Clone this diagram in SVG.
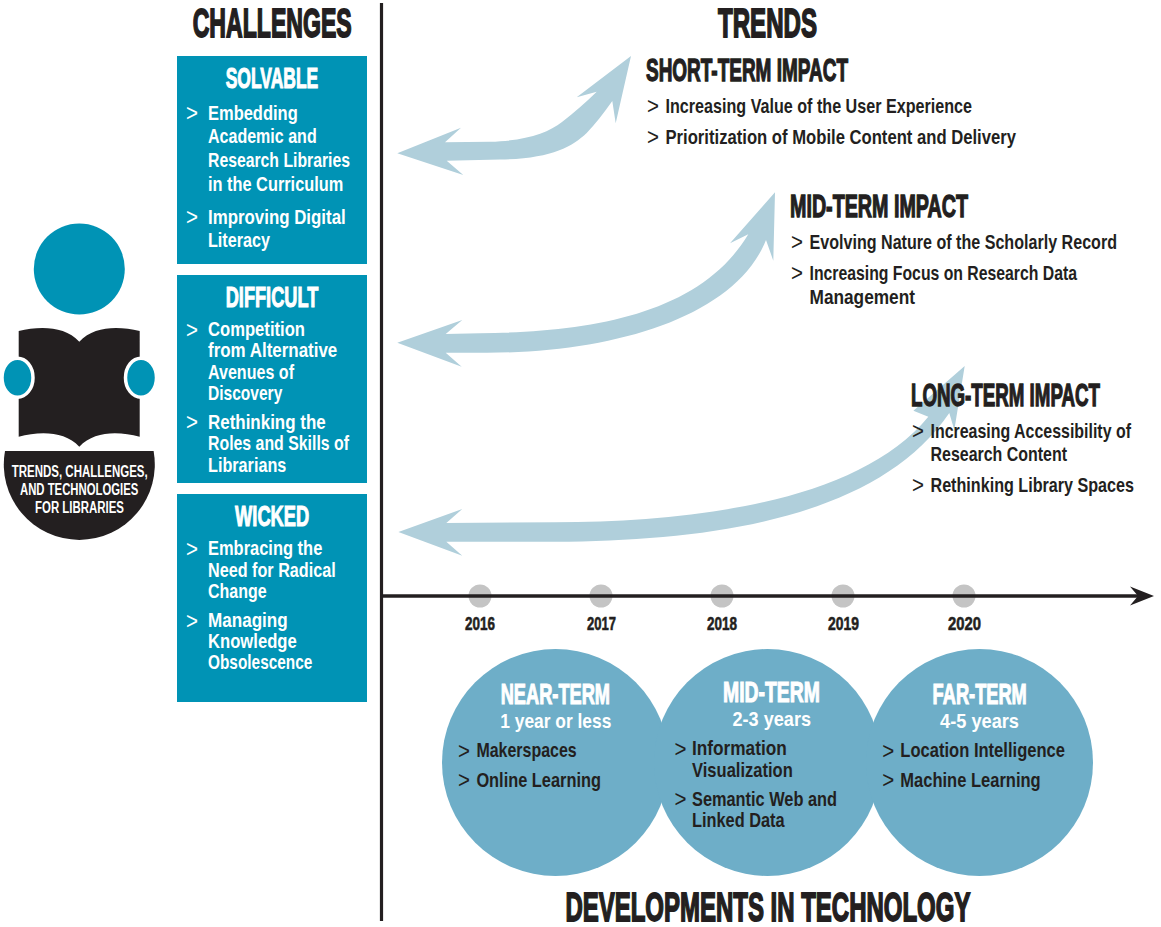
<svg xmlns="http://www.w3.org/2000/svg" width="1161" height="927" viewBox="0 0 1161 927">
<style>
text{font-family:"Liberation Sans Narrow","Liberation Sans",Arial,sans-serif;font-weight:700;font-size:21px;fill:#231f20}
.h{font-family:"Liberation Sans",Arial,sans-serif;stroke:#231f20;stroke-width:1.8px;font-size:41px}
.s{font-family:"Liberation Sans",Arial,sans-serif;stroke:#231f20;stroke-width:1.3px;font-size:31px}
.w{fill:#fff}
.hw{font-family:"Liberation Sans",Arial,sans-serif;fill:#fff;stroke:#fff;stroke-width:1.1px;font-size:30px}
.hn{font-size:29px}
.g{font-weight:400;font-size:24px}
.y{font-family:"Liberation Sans",Arial,sans-serif;stroke:#231f20;stroke-width:.6px;font-size:19px}
.l{font-size:16px;fill:#fff}
.box{fill:#0093b5}
.tc{fill:#6eaec8}
.arr{fill:#b0cfdb}
.dot{fill:#c4c4c4}
.dk{fill:#231f20}
</style>
<rect width="1161" height="927" fill="#fff"/>
<g id="connectors">
<path class="arr" d="M397.3 153.3L461 127.7L445 142.3L490 141.7C525 141 548 133 562 122C575 112 586 102 596.7 91.7L576.7 97.3L631 56L615.7 123.3L612.3 101C604 113 595 124 586.7 133C572 147 550 159 500 159.5L446.7 160.7L463.3 175Z"/>
<path class="arr" d="M397.3 342.7L462.3 320L445.7 334L480 333.3C590 332 700 315 748.3 234.3L730 243.3L775 192.3L773.3 260.7L766 240C735 318 610 354 480 352.7L445.7 352.7L461.7 366.7Z"/>
<path class="arr" d="M398.4 532L462.3 509L446.3 523L555 522.3C700 522 860 500 928.3 416.7L913.4 410.7L964.7 366L954.3 430L949.3 413C880 515 720 541 555 541.7L446.3 541.7L462.3 555.7Z"/>
<path fill="none" stroke="#231f20" stroke-width="3.2" d="M381.5 3V921"/>
<circle class="dot" cx="480" cy="596" r="11.5"/>
<circle class="dot" cx="601" cy="596" r="11.5"/>
<circle class="dot" cx="722" cy="596" r="11.5"/>
<circle class="dot" cx="843" cy="596" r="11.5"/>
<circle class="dot" cx="964" cy="596" r="11.5"/>
<path fill="none" stroke="#231f20" stroke-width="3.5" d="M382 596H1140"/>
<path class="dk" d="M1154 596L1130 586.5L1138 596L1130 605.5Z"/>
</g>
<g id="reader">
<circle cx="79.3" cy="269" r="45.5" fill="#0093b5"/>
<path class="dk" d="M18.7 331C40 326 65 326 79.3 341.7C94 326 118 326 139.7 331V436.7C118 431 94 431 79.3 446.7C65 431 40 431 18.7 436.7Z"/>
<ellipse cx="17.5" cy="377.7" rx="15.5" ry="19.5" fill="#0093b5" stroke="#fff" stroke-width="3.5"/>
<ellipse cx="141" cy="377.7" rx="15.5" ry="19.5" fill="#0093b5" stroke="#fff" stroke-width="3.5"/>
<path class="dk" d="M5 451H153.6A75.5 75.5 0 1 1 5 451Z"/>
<text class="l" x="11.7" y="476.7" textLength="136" lengthAdjust="spacingAndGlyphs">TRENDS, CHALLENGES,</text>
<text class="l" x="20" y="495" textLength="118.3" lengthAdjust="spacingAndGlyphs">AND TECHNOLOGIES</text>
<text class="l" x="35" y="513" textLength="89" lengthAdjust="spacingAndGlyphs">FOR LIBRARIES</text>
</g>
<g id="challenges-title"><text class="h" x="192.7" y="36.5" textLength="159" lengthAdjust="spacingAndGlyphs">CHALLENGES</text></g>
<g id="solvable">
<rect class="box" x="177" y="56" width="190" height="208"/>
<text class="hw" x="225.7" y="88" textLength="92.6" lengthAdjust="spacingAndGlyphs">SOLVABLE</text>
<text class="w g" x="186" y="121" textLength="12" lengthAdjust="spacingAndGlyphs">&gt;</text>
<text class="w" x="208" y="119.5" textLength="89.7" lengthAdjust="spacingAndGlyphs">Embedding</text>
<text class="w" x="208" y="143.2" textLength="108.7" lengthAdjust="spacingAndGlyphs">Academic and</text>
<text class="w" x="208" y="167.2" textLength="142" lengthAdjust="spacingAndGlyphs">Research Libraries</text>
<text class="w" x="208" y="191.2" textLength="135.3" lengthAdjust="spacingAndGlyphs">in the Curriculum</text>
<text class="w g" x="186" y="225" textLength="12" lengthAdjust="spacingAndGlyphs">&gt;</text>
<text class="w" x="208" y="223.5" textLength="137.7" lengthAdjust="spacingAndGlyphs">Improving Digital</text>
<text class="w" x="208" y="247.2" textLength="62" lengthAdjust="spacingAndGlyphs">Literacy</text>
</g>
<g id="difficult">
<rect class="box" x="177" y="275" width="190" height="208"/>
<text class="hw" x="225.7" y="307" textLength="92.6" lengthAdjust="spacingAndGlyphs">DIFFICULT</text>
<text class="w g" x="186" y="337.5" textLength="12" lengthAdjust="spacingAndGlyphs">&gt;</text>
<text class="w" x="208" y="336.2" textLength="97" lengthAdjust="spacingAndGlyphs">Competition</text>
<text class="w" x="208" y="357" textLength="129.3" lengthAdjust="spacingAndGlyphs">from Alternative</text>
<text class="w" x="208" y="378.7" textLength="86" lengthAdjust="spacingAndGlyphs">Avenues of</text>
<text class="w" x="208" y="400.2" textLength="74.3" lengthAdjust="spacingAndGlyphs">Discovery</text>
<text class="w g" x="186" y="430" textLength="12" lengthAdjust="spacingAndGlyphs">&gt;</text>
<text class="w" x="208" y="429" textLength="117.7" lengthAdjust="spacingAndGlyphs">Rethinking the</text>
<text class="w" x="208" y="450.4" textLength="141" lengthAdjust="spacingAndGlyphs">Roles and Skills of</text>
<text class="w" x="208" y="472" textLength="78.3" lengthAdjust="spacingAndGlyphs">Librarians</text>
</g>
<g id="wicked">
<rect class="box" x="177" y="494" width="190" height="208"/>
<text class="hw" x="235" y="525.5" textLength="74.3" lengthAdjust="spacingAndGlyphs">WICKED</text>
<text class="w g" x="186" y="556.5" textLength="12" lengthAdjust="spacingAndGlyphs">&gt;</text>
<text class="w" x="208" y="555.2" textLength="114.3" lengthAdjust="spacingAndGlyphs">Embracing the</text>
<text class="w" x="208" y="577" textLength="127.7" lengthAdjust="spacingAndGlyphs">Need for Radical</text>
<text class="w" x="208" y="598" textLength="58.7" lengthAdjust="spacingAndGlyphs">Change</text>
<text class="w g" x="186" y="628.5" textLength="12" lengthAdjust="spacingAndGlyphs">&gt;</text>
<text class="w" x="208" y="627.4" textLength="79.7" lengthAdjust="spacingAndGlyphs">Managing</text>
<text class="w" x="208" y="648.4" textLength="88.7" lengthAdjust="spacingAndGlyphs">Knowledge</text>
<text class="w" x="208" y="669" textLength="104.3" lengthAdjust="spacingAndGlyphs">Obsolescence</text>
</g>
<g id="trends-title"><text class="h" x="718" y="36.5" textLength="99" lengthAdjust="spacingAndGlyphs">TRENDS</text></g>
<g id="short-term">
<text class="s" x="646" y="80.5" textLength="202" lengthAdjust="spacingAndGlyphs">SHORT-TERM IMPACT</text>
<text class="g" x="647" y="113.5" textLength="12" lengthAdjust="spacingAndGlyphs">&gt;</text>
<text x="665.5" y="112.5" textLength="306.5" lengthAdjust="spacingAndGlyphs">Increasing Value of the User Experience</text>
<text class="g" x="647" y="144.5" textLength="12" lengthAdjust="spacingAndGlyphs">&gt;</text>
<text x="665.5" y="143.5" textLength="350.5" lengthAdjust="spacingAndGlyphs">Prioritization of Mobile Content and Delivery</text>
</g>
<g id="mid-term">
<text class="s" x="790" y="216.5" textLength="178" lengthAdjust="spacingAndGlyphs">MID-TERM IMPACT</text>
<text class="g" x="791" y="249.5" textLength="12" lengthAdjust="spacingAndGlyphs">&gt;</text>
<text x="809.5" y="248.5" textLength="307.5" lengthAdjust="spacingAndGlyphs">Evolving Nature of the Scholarly Record</text>
<text class="g" x="791" y="280.5" textLength="12" lengthAdjust="spacingAndGlyphs">&gt;</text>
<text x="809.5" y="279.5" textLength="267.5" lengthAdjust="spacingAndGlyphs">Increasing Focus on Research Data</text>
<text x="809.5" y="303.5" textLength="105.5" lengthAdjust="spacingAndGlyphs">Management</text>
</g>
<g id="long-term">
<text class="s" x="911" y="405.5" textLength="189" lengthAdjust="spacingAndGlyphs">LONG-TERM IMPACT</text>
<text class="g" x="912" y="438.5" textLength="12" lengthAdjust="spacingAndGlyphs">&gt;</text>
<text x="930.5" y="437.5" textLength="200.5" lengthAdjust="spacingAndGlyphs">Increasing Accessibility of</text>
<text x="930.5" y="461.2" textLength="136.5" lengthAdjust="spacingAndGlyphs">Research Content</text>
<text class="g" x="912" y="493" textLength="12" lengthAdjust="spacingAndGlyphs">&gt;</text>
<text x="930.5" y="492.2" textLength="203.5" lengthAdjust="spacingAndGlyphs">Rethinking Library Spaces</text>
</g>
<g id="years">
<text class="y" x="465" y="630" textLength="30" lengthAdjust="spacingAndGlyphs">2016</text>
<text class="y" x="587" y="630" textLength="29" lengthAdjust="spacingAndGlyphs">2017</text>
<text class="y" x="707" y="630" textLength="30" lengthAdjust="spacingAndGlyphs">2018</text>
<text class="y" x="828" y="630" textLength="31" lengthAdjust="spacingAndGlyphs">2019</text>
<text class="y" x="948" y="630" textLength="33" lengthAdjust="spacingAndGlyphs">2020</text>
</g>
<g id="near-term">
<ellipse class="tc" cx="555.5" cy="762.5" rx="113.5" ry="113.5"/>
<text class="hw hn" x="500.7" y="704" textLength="109.3" lengthAdjust="spacingAndGlyphs">NEAR-TERM</text>
<text class="w" x="500.3" y="728" textLength="111" lengthAdjust="spacingAndGlyphs">1 year or less</text>
<text class="g" x="458" y="758.5" textLength="12" lengthAdjust="spacingAndGlyphs">&gt;</text>
<text x="476.4" y="757.2" textLength="100.3" lengthAdjust="spacingAndGlyphs">Makerspaces</text>
<text class="g" x="458" y="787.5" textLength="12" lengthAdjust="spacingAndGlyphs">&gt;</text>
<text x="476.4" y="786.5" textLength="124.6" lengthAdjust="spacingAndGlyphs">Online Learning</text>
</g>
<g id="mid-term-tech">
<ellipse class="tc" cx="767.5" cy="762.5" rx="113.5" ry="113.5"/>
<text class="hw hn" x="723" y="702" textLength="96.8" lengthAdjust="spacingAndGlyphs">MID-TERM</text>
<text class="w" x="732.5" y="726.2" textLength="78.5" lengthAdjust="spacingAndGlyphs">2-3 years</text>
<text class="g" x="674.4" y="756.5" textLength="12" lengthAdjust="spacingAndGlyphs">&gt;</text>
<text x="692" y="755.2" textLength="94.8" lengthAdjust="spacingAndGlyphs">Information</text>
<text x="692" y="777" textLength="100.8" lengthAdjust="spacingAndGlyphs">Visualization</text>
<text class="g" x="674.4" y="807" textLength="12" lengthAdjust="spacingAndGlyphs">&gt;</text>
<text x="692" y="806" textLength="145" lengthAdjust="spacingAndGlyphs">Semantic Web and</text>
<text x="692" y="827" textLength="92.6" lengthAdjust="spacingAndGlyphs">Linked Data</text>
</g>
<g id="far-term">
<ellipse class="tc" cx="979.5" cy="762.5" rx="113.5" ry="113.5"/>
<text class="hw hn" x="932.6" y="704" textLength="94.2" lengthAdjust="spacingAndGlyphs">FAR-TERM</text>
<text class="w" x="940" y="728" textLength="79" lengthAdjust="spacingAndGlyphs">4-5 years</text>
<text class="g" x="882.3" y="758.5" textLength="12" lengthAdjust="spacingAndGlyphs">&gt;</text>
<text x="900.3" y="757.2" textLength="164.7" lengthAdjust="spacingAndGlyphs">Location Intelligence</text>
<text class="g" x="882.3" y="787.5" textLength="12" lengthAdjust="spacingAndGlyphs">&gt;</text>
<text x="900.3" y="786.5" textLength="140.4" lengthAdjust="spacingAndGlyphs">Machine Learning</text>
</g>
<g id="developments-title"><text class="h" x="565.4" y="920.5" textLength="405" lengthAdjust="spacingAndGlyphs">DEVELOPMENTS IN TECHNOLOGY</text></g>
</svg>
